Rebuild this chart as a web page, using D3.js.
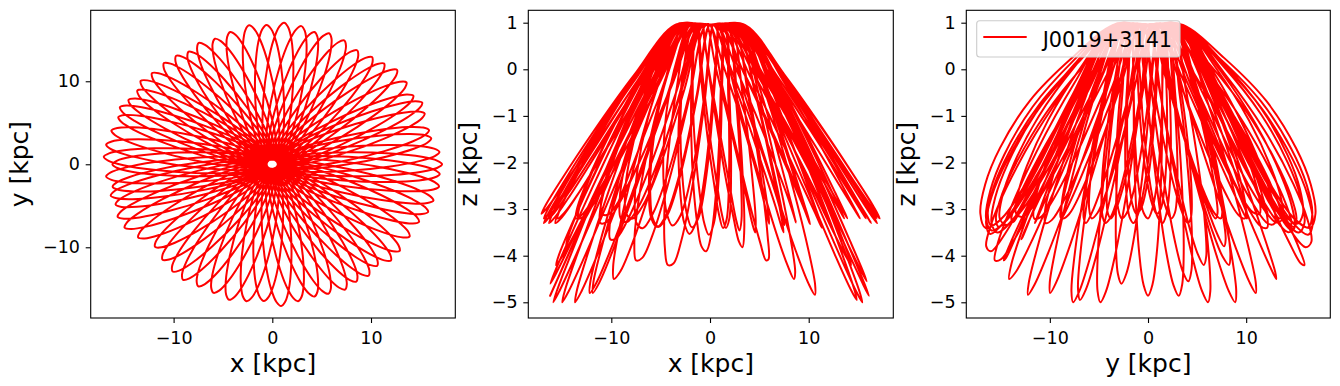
<!DOCTYPE html>
<html>
<head>
<meta charset="utf-8">
<script src="https://cdn.jsdelivr.net/npm/d3@7"></script>
<style>
  body { margin: 0; background: #fff; }
  svg { display: block; font-family: "DejaVu Sans", sans-serif; }
</style>
</head>
<body>
<svg id="chart"></svg>
<script>
// orbit of J0019+3141, one entry per apocentre loop, in time order
const apoAngle = [0, 180, 5, 185, 11, 189.5, 14.5, 193, 21.6, 197, 26, 202, 30, 207, 36, 213, 42, 220,
  47, 226, 52, 232, 58, 237, 64, 243, 70, 249, 75, 255, 80, 261, 86, 267, 92, 273, 98, 279,
  105, 285, 111, 290, 117, 296, 122, 301, 126.7, 306, 132, 311, 138, 316, 143, 321, 147, 328,
  152, 335, 156, 340, 160, 345, 166, 351, 172, 356, 177]                             // degrees in x-y plane
const apoRadius = [17.2, 16.2, 17.0, 16.9, 16.4, 16.4, 16.4, 16.8, 16.6, 16.6, 16.9, 16.9, 16.5, 16.8,
  16.8, 16.2, 17.0, 15.5, 16.6, 16.0, 16.4, 16.4, 16.2, 16.6, 16.6, 16.5, 16.8, 16.6, 16.5, 16.9,
  16.9, 16.7, 17.1, 16.5, 16.8, 17.1, 16.9, 16.7, 16.5, 16.5, 16.2, 16.6, 16.4, 16.8, 16.0, 16.5,
  16.3, 16.6, 16.4, 16.2, 16.4, 16.7, 16.7, 16.6, 16.3, 16.4, 16.5, 16.4, 16.9, 16.8, 16.6, 16.9,
  16.8, 17.1, 17.0, 17.0, 17.1]                                                        // kpc
const apoDepth = [-3.2, -4.86, -3.3, -3.3, -4.86, -4.6, -4.55, -3.2, -5.0, -5.0, -3.2, -3.3, -4.2, -5.0,
  -3.2, -3.2, -3.1, -4.8, -3.4, -3.3, -3.3, -3.65, -3.2, -3.2, -3.4, -4.1, -3.1, -3.2, -3.3, -3.1,
  -3.7, -3.3, -3.1, -3.8, -3.3, -3.1, -3.1, -3.2, -4.2, -3.3, -3.2, -4.1, -3.3, -3.2, -3.1, -4.5,
  -4.5, -3.1, -3.1, -4.84, -4.8, -3.2, -3.2, -3.3, -5.0, -3.2, -3.8, -4.95, -3.2, -3.2, -4.2, -3.3,
  -3.3, -3.2, -3.2, -3.1, -3.1]                                                        // z at apocentre, kpc
const peakHeight = 0.95      // z near the centre, kpc

// shape of one loop (outbound leg, the inbound leg mirrors it)
const legShare = [0.03, 0.2, 0.45, 0.7, 0.88, 0.97]      // fraction of apocentre radius
const legHalfWidth = [0.6, 1.2, 1.45, 1.3, 0.9, 0.45]    // kpc off the loop axis
const depthShare = [0, 0, 0.28, 0.6, 0.84, 0.96]         // fraction of the drop to apocentre depth
const legSplit = [0, 0, 0.5, 0.95, 0.9, 0.55]            // where in/out legs part in z

const xyXLim = [-18.4, 18.54], xyYLim = [-18.52, 18.55]
const xzXLim = [-18.41, 18.57], xzZLim = [-5.337, 1.266]
const yzYLim = [-18.51, 18.57], yzZLim = [-5.337, 1.266]
const wideTicks = [-10, 0, 10]
const zTicks = [-5, -4, -3, -2, -1, 0, 1]
const seriesName = 'J0019+3141'

const width = 1340, height = 386
const svg = d3.select('#chart').attr('width', width).attr('height', height)

// build the orbit points
const orbit = []
apoAngle.forEach((deg, i) => {
    const a = deg * Math.PI / 180
    const R = apoRadius[i], zA = apoDepth[i]
    const ux = Math.cos(a), uy = Math.sin(a)
    const vx = -uy, vy = ux
    // legs part more for shallow loops, mostly for loops along y
    const split = 0.45 * (zA + 5) * (0.1 + 0.9 * uy * uy * uy * uy) * (i % 2 ? 1 : -1)
    const put = (s, v, f, h) => orbit.push({
        x: R * s * ux + v * vx,
        y: R * s * uy + v * vy,
        z: peakHeight + (zA - peakHeight) * f + h
    })
    legShare.forEach((s, j) => put(s, -legHalfWidth[j], depthShare[j], split * legSplit[j]))
    put(1, 0, 1, 0)
    for (let j = legShare.length - 1; j >= 0; j--) put(legShare[j], legHalfWidth[j], depthShare[j], -split * legSplit[j])
})

const panels = [
    { h: 'x', v: 'y', box: [90.7, 10.3, 455.3, 318], xLim: xyXLim, yLim: xyYLim, xTicks: wideTicks, yTicks: wideTicks, xLabel: 'x [kpc]', yLabel: 'y [kpc]', yLabelX: 28.3 },
    { h: 'x', v: 'z', box: [528.3, 10.3, 893.3, 318], xLim: xzXLim, yLim: xzZLim, xTicks: wideTicks, yTicks: zTicks, xLabel: 'x [kpc]', yLabel: 'z [kpc]', yLabelX: 476.5 },
    { h: 'y', v: 'z', box: [966.3, 10.3, 1330.3, 318], xLim: yzYLim, yLim: yzZLim, xTicks: wideTicks, yTicks: zTicks, xLabel: 'y [kpc]', yLabel: 'z [kpc]', yLabelX: 914.5, legend: true }
]

const fmt = d3.format('d')

panels.forEach((p, k) => {
    const [l, t, r, b] = p.box
    const x = d3.scaleLinear().domain(p.xLim).range([l, r])
    const y = d3.scaleLinear().domain(p.yLim).range([b, t])

    svg.append('clipPath').attr('id', 'clip' + k)
        .append('rect').attr('x', l).attr('y', t).attr('width', r - l).attr('height', b - t)

    const line = d3.line()
        .x(d => x(d[p.h]))
        .y(d => y(d[p.v]))
        .curve(d3.curveCatmullRom.alpha(0.5))

    svg.append('path')
        .datum(orbit)
        .attr('clip-path', `url(#clip${k})`)
        .attr('d', line)
        .attr('fill', 'none')
        .attr('stroke', '#ff0000')
        .attr('stroke-width', 2)
        .attr('stroke-linejoin', 'round')

    const gx = svg.append('g')
        .attr('transform', `translate(0,${b})`)
        .call(d3.axisBottom(x).tickValues(p.xTicks).tickFormat(fmt).tickSize(5))
        .attr('font-size', 17.5).attr('font-family', '"DejaVu Sans"')
    gx.select('.domain').remove()
    gx.selectAll('line').attr('stroke', '#000').attr('stroke-width', 1.1)
    gx.selectAll('text').attr('y', 25.5).attr('dy', null).attr('fill', '#000')

    const gy = svg.append('g')
        .attr('transform', `translate(${l},0)`)
        .call(d3.axisLeft(y).tickValues(p.yTicks).tickFormat(fmt).tickSize(5).tickPadding(5.7))
        .attr('font-size', 17.5).attr('font-family', '"DejaVu Sans"')
    gy.select('.domain').remove()
    gy.selectAll('line').attr('stroke', '#000').attr('stroke-width', 1.1)
    gy.selectAll('text').attr('fill', '#000')

    svg.append('rect')
        .attr('x', l).attr('y', t).attr('width', r - l).attr('height', b - t)
        .attr('fill', 'none').attr('stroke', '#000').attr('stroke-width', 1.1)

    svg.append('text')
        .attr('x', (l + r) / 2).attr('y', 372)
        .attr('text-anchor', 'middle')
        .style('font-size', '25px')
        .text(p.xLabel)

    svg.append('text')
        .attr('transform', `translate(${p.yLabelX},${(t + b) / 2}) rotate(-90)`)
        .attr('text-anchor', 'middle')
        .style('font-size', '25px')
        .text(p.yLabel)

    if (p.legend) {
        const lg = svg.append('g')
        lg.append('rect')
            .attr('x', 976.7).attr('y', 20.7).attr('width', 203.3).attr('height', 36.3)
            .attr('rx', 3)
            .attr('fill', 'rgba(255,255,255,0.8)')
            .attr('stroke', '#cccccc').attr('stroke-width', 1.1)
        lg.append('line')
            .attr('x1', 983.3).attr('x2', 1026.7).attr('y1', 37).attr('y2', 37)
            .attr('stroke', '#ff0000').attr('stroke-width', 2)
        lg.append('text')
            .attr('x', 1042.7).attr('y', 47)
            .style('font-size', '20.8px')
            .text(seriesName)
    }
})
</script>
</body>
</html>
